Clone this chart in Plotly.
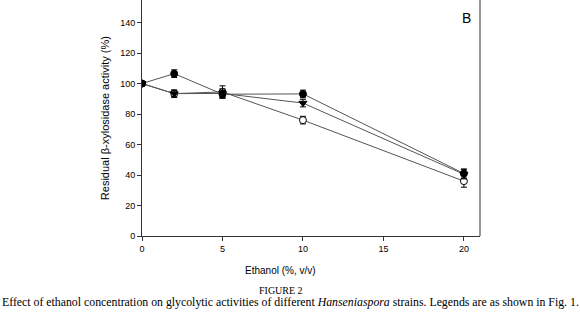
import plotly.graph_objects as go

ethanol = [0, 2, 5, 10, 20]
strain_a = [100, 106.5, 93, 93.2, 41]      # filled circle
strain_a_err = [0, 2.5, 2.5, 2.5, 3]
strain_b = [100, 93.4, 93.5, 87.2, 40.5]   # filled triangle down
strain_b_err = [0, 2.5, 3, 2.5, 3]
strain_c = [100, 93.4, 94.5, 76, 36]       # open circle
strain_c_err = [0, 2, 4, 2.5, 4]

y_ticks = [0, 20, 40, 60, 80, 100, 120, 140]
x_ticks = [0, 5, 10, 15, 20]

FONT = "Arial, Liberation Sans, sans-serif"
SERIF = "Liberation Serif, Times New Roman, serif"
LINE = "#555555"

fig = go.Figure()

def add(y, err, symbol, fill):
    fig.add_trace(go.Scatter(
        x=ethanol, y=y, mode="lines+markers",
        line=dict(color=LINE, width=1),
        marker=dict(symbol=symbol, size=7, color=fill,
                    line=dict(color="black", width=1)),
        error_y=dict(type="data", array=err, color="black",
                     thickness=1, width=3),
        showlegend=False,
    ))

add(strain_c, strain_c_err, "circle", "white")
add(strain_b, strain_b_err, "triangle-down", "black")
add(strain_a, strain_a_err, "circle", "black")

fig.update_layout(
    width=580, height=317,
    margin=dict(l=142, r=100, t=0, b=81),
    paper_bgcolor="white", plot_bgcolor="white",
    font=dict(family=FONT, size=9, color="black"),
    xaxis=dict(range=[0, 21], tickvals=x_ticks, showgrid=False,
               zeroline=False, showline=True, linecolor="#333",
               linewidth=1, ticks="outside", ticklen=4, tickcolor="#333",
               tickfont=dict(size=9)),
    yaxis=dict(range=[0, 154.8], tickvals=y_ticks, showgrid=False,
               zeroline=False, showline=True, linecolor="#333",
               linewidth=1, ticks="outside", ticklen=4, tickcolor="#333",
               tickfont=dict(size=9)),
    shapes=[dict(type="line", xref="paper", yref="paper",
                 x0=1, x1=1, y0=0, y1=1,
                 line=dict(color="#333", width=1))],
    annotations=[
        dict(text="B", xref="paper", yref="paper", x=0.96, y=0.924,
             showarrow=False, font=dict(size=14, family=FONT),
             xanchor="center", yanchor="middle"),
        dict(text="Residual β-xylosidase activity (%)", xref="paper",
             yref="paper", x=-0.109, y=0.5, textangle=-90,
             showarrow=False, font=dict(size=11, family=FONT),
             xanchor="center", yanchor="middle"),
        dict(text="Ethanol (%, v/v)", xref="paper", yref="paper",
             x=0.411, y=-0.148, showarrow=False,
             font=dict(size=10, family=FONT),
             xanchor="center", yanchor="middle"),
        dict(text="FIGURE 2", xref="paper", yref="paper",
             x=0.411, y=-0.233, showarrow=False,
             font=dict(size=10, family=SERIF),
             xanchor="center", yanchor="middle"),
        dict(text="Effect of ethanol concentration on glycolytic activities of different "
                  "<i>Hanseniaspora</i> strains. Legends are as shown in Fig. 1.",
             xref="paper", yref="paper", x=0.438, y=-0.28, showarrow=False,
             font=dict(size=11.8, family=SERIF),
             xanchor="center", yanchor="middle"),
    ],
)

fig.write_html(
    "out.html",
    config={"displayModeBar": False},
    post_script="document.body.style.margin='0';document.body.style.overflow='hidden';",
)
